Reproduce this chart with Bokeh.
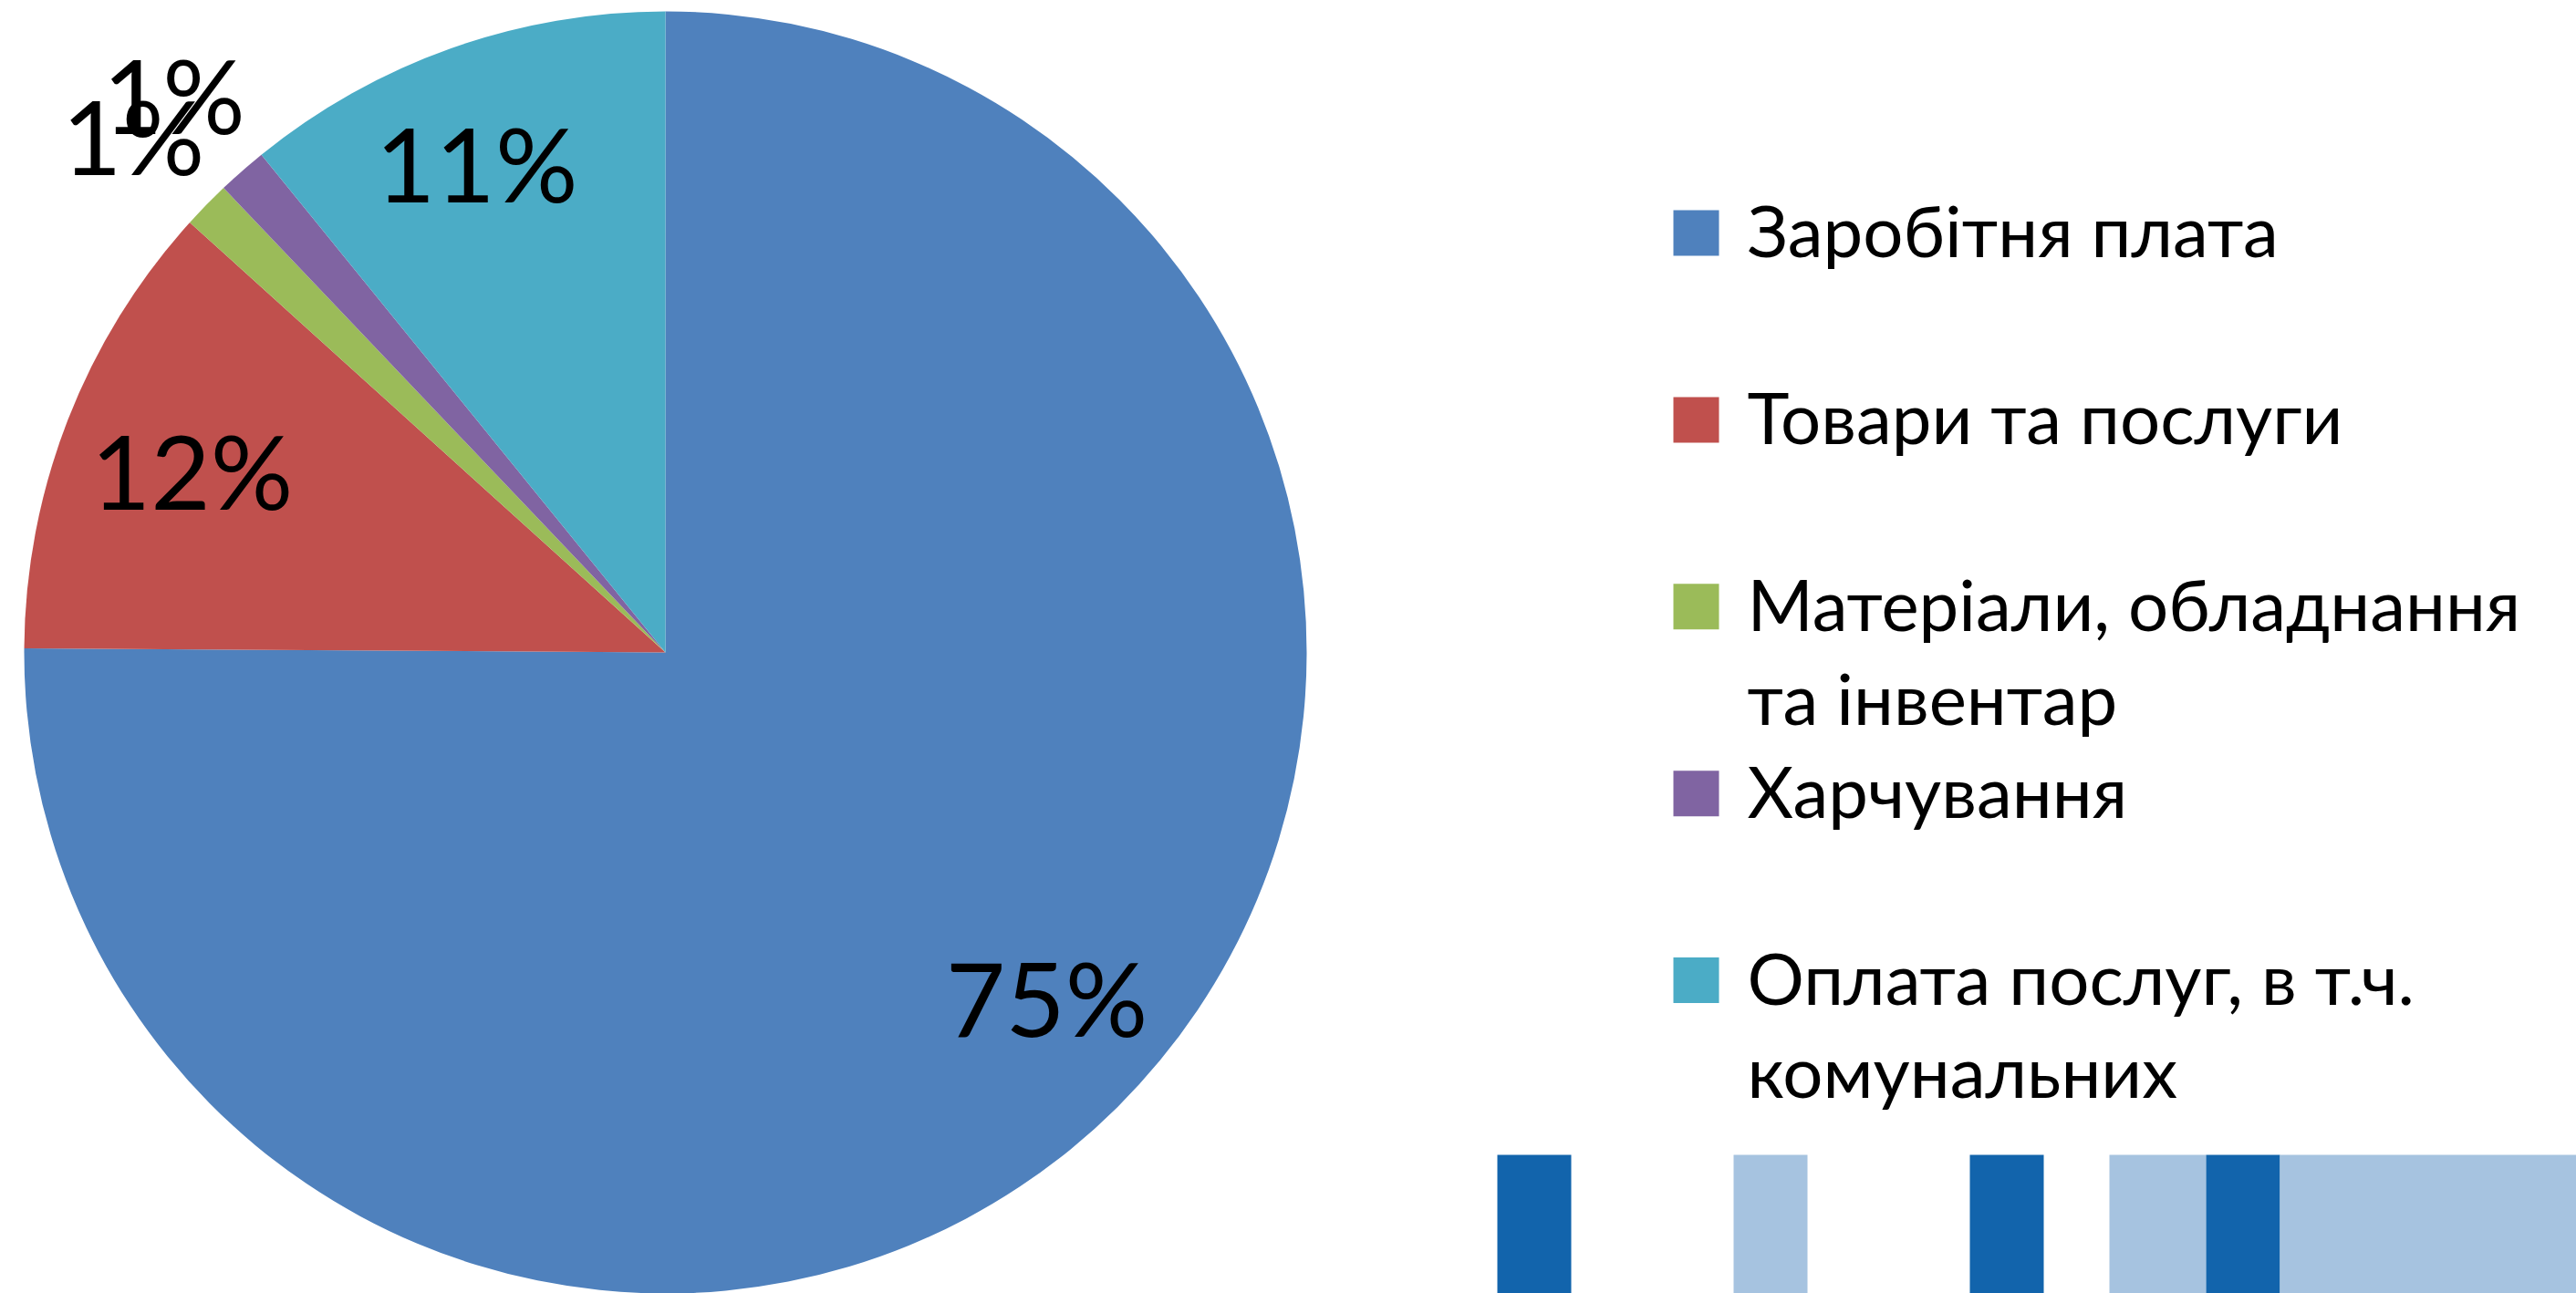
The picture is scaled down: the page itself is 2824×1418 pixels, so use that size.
import math
from bokeh.plotting import figure
from bokeh.models import Range1d, ColumnDataSource
from bokeh.core.properties import value
from bokeh.embed import file_html
from bokeh.resources import INLINE

# ---------------- data ----------------
categories = [
    "Заробітня плата",
    "Товари та послуги",
    "Матеріали, обладнання та інвентар",
    "Харчування",
    "Оплата послуг, в т.ч. комунальних",
]
legend_lines = [
    ["Заробітня плата"],
    ["Товари та послуги"],
    ["Матеріали, обладнання", "та інвентар"],
    ["Харчування"],
    ["Оплата послуг, в т.ч.", "комунальних"],
]
shares = [75.1, 11.6, 1.2, 1.25, 10.85]
pct_labels = ["75%", "12%", "1%", "1%", "11%"]
colors = ["#4F81BD", "#C0504D", "#9BBB59", "#8064A2", "#4BACC6"]

# ---------------- layout ----------------
W, H = 2824, 1418
CX, CY_PIX, R = 729, 715, 703
CY = H - CY_PIX
label_rfac = [0.80, 0.792, 1.159, 1.161, 0.82]
label_nudge_deg = [-3.2, 0.0, 0.0, 0.0, -1.5]
LABEL_SIZE = 113
CAP = 0.7165
LABEL_FIX = 0.35     # renderer baseline correction (em)
LEG_SIZE = 78
LEG_FIX = 0.40
LEG_SQ_X, LEG_SQ = 1859, 50
LEG_TEXT_X = 1915
LEG_TOP_PIX, LEG_STEP = 255, 204.9
LEG_LINE_GAP = 102.5

deco = [  # decorative slide stripes: left, right (pixels), colour
    (1641, 1722, "#1264AC"),
    (1900, 1981, "#A6C3E0"),
    (2159, 2240, "#1264AC"),
    (2312, 2418, "#A6C3E0"),
    (2418, 2499, "#1264AC"),
    (2499, 2824, "#A6C3E0"),
]
DECO_TOP_PIX = 1266

p = figure(width=W, height=H, x_range=Range1d(0, W), y_range=Range1d(0, H),
           output_backend="svg", toolbar_location=None, min_border=0,
           outline_line_color=None, background_fill_color="white",
           border_fill_color="white")
p.axis.visible = False
p.xgrid.visible = False
p.ygrid.visible = False

# pie wedges (clockwise from 12 o'clock)
total = sum(shares)
cum = [0.0]
for s in shares:
    cum.append(cum[-1] + s / total)
starts, ends = [], []
for i in range(len(shares)):
    a0 = math.pi / 2 - 2 * math.pi * cum[i]
    a1 = math.pi / 2 - 2 * math.pi * cum[i + 1]
    starts.append(a1)
    ends.append(a0)
src = ColumnDataSource(dict(start=starts, end=ends, color=colors))
p.wedge(x=CX, y=CY, radius=R, start_angle="start", end_angle="end",
        fill_color="color", line_color=None, source=src)

# percentage labels
lx, ly = [], []
for i in range(len(shares)):
    mid = (cum[i] + cum[i + 1]) / 2 * 360 + label_nudge_deg[i]
    th = math.radians(mid)
    rr = R * label_rfac[i]
    lx.append(CX + rr * math.sin(th))
    ly.append(CY + rr * math.cos(th) - LABEL_SIZE * CAP / 2 + LABEL_SIZE * LABEL_FIX)
p.text(x=lx, y=ly, text=pct_labels, text_font=value("Lato"),
       text_font_size=f"{LABEL_SIZE}px", text_color="black",
       text_align="center", text_baseline="alphabetic")

# legend
sq_y = [H - (LEG_TOP_PIX + i * LEG_STEP) for i in range(len(categories))]
p.rect(x=[LEG_SQ_X] * len(categories), y=sq_y, width=LEG_SQ, height=LEG_SQ,
       fill_color=colors, line_color=None)
tx, ty, tt = [], [], []
for i, lines in enumerate(legend_lines):
    for j, line in enumerate(lines):
        tx.append(LEG_TEXT_X)
        ty.append(sq_y[i] - LEG_SIZE * CAP / 2 + LEG_SIZE * LEG_FIX - j * LEG_LINE_GAP)
        tt.append(line)
p.text(x=tx, y=ty, text=tt, text_font=value("Lato"),
       text_font_size=f"{LEG_SIZE}px", text_color="black",
       text_align="left", text_baseline="alphabetic")

# decorative stripes
p.quad(left=[d[0] for d in deco], right=[d[1] for d in deco],
       top=[H - DECO_TOP_PIX] * len(deco), bottom=[0] * len(deco),
       fill_color=[d[2] for d in deco], line_color=None)

open("out.html", "w").write(file_html(p, INLINE))
